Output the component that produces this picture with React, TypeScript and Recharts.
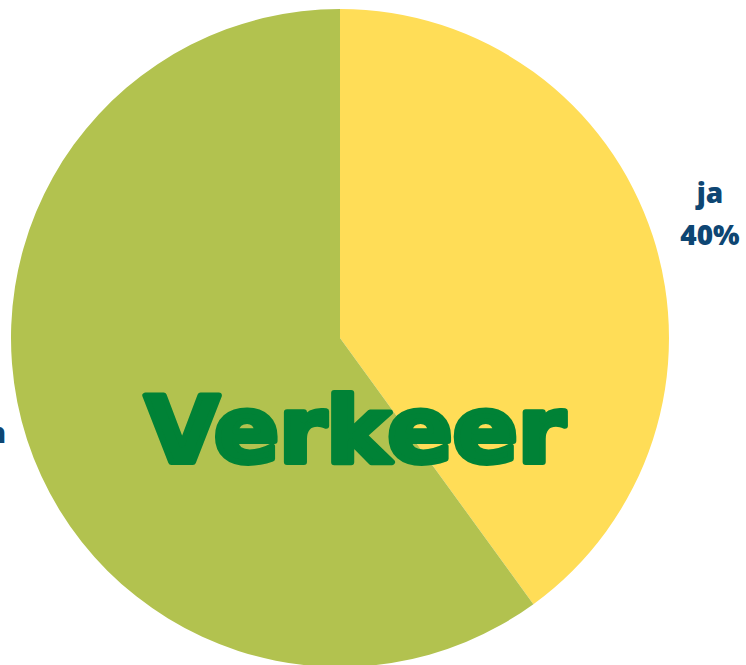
import React from "react";
import { PieChart, Pie, Cell, Label } from "recharts";

const categories = ["ja", "neen"];
const values = [40, 60];
const percentLabels = ["40%", "60%"];
const colors = ["#FFDD57", "#B2C24F"];
const centerTitle = "Verkeer";

const data = categories.map((name, i) => ({ name, value: values[i], pct: percentLabels[i] }));

const RAD = Math.PI / 180;

const renderLabel = (props: any) => {
  const { cx, cy, midAngle, outerRadius, index } = props;
  const r = outerRadius + 60;
  const x = cx + r * Math.cos(-midAngle * RAD);
  const y = cy + r * Math.sin(-midAngle * RAD);
  return (
    <text
      x={x}
      y={y}
      textAnchor="middle"
      fill="#0E4673"
      fontFamily="'Open Sans', 'Noto Sans', sans-serif"
      fontWeight={800}
      fontSize={28}
    >
      <tspan x={x} y={y - 15}>{data[index].name}</tspan>
      <tspan x={x} y={y + 27}>{data[index].pct}</tspan>
    </text>
  );
};

export default function App() {
  return (
    <div style={{ position: "absolute", left: 0, top: 0, width: 746, height: 665 }}>
      <PieChart width={746} height={665} margin={{ top: 0, right: 0, bottom: 0, left: 0 }}>
        <Pie
          data={data}
          dataKey="value"
          nameKey="name"
          cx={340}
          cy={338}
          outerRadius={329}
          startAngle={90}
          endAngle={-270}
          stroke="none"
          label={renderLabel}
          labelLine={false}
          isAnimationActive={false}
        >
          {data.map((d, i) => (
            <Cell key={d.name} fill={colors[i]} />
          ))}
          <Label
            position="center"
            content={() => (
              <text
                x={145}
                y={462}
                fill="#008236"
                stroke="#008236"
                strokeWidth={6}
                strokeLinejoin="round"
                fontFamily="'DejaVu Sans', sans-serif"
                fontWeight={700}
                fontSize={91}
                textLength={420}
                lengthAdjust="spacingAndGlyphs"
              >
                {centerTitle}
              </text>
            )}
          />
        </Pie>
      </PieChart>
    </div>
  );
}
